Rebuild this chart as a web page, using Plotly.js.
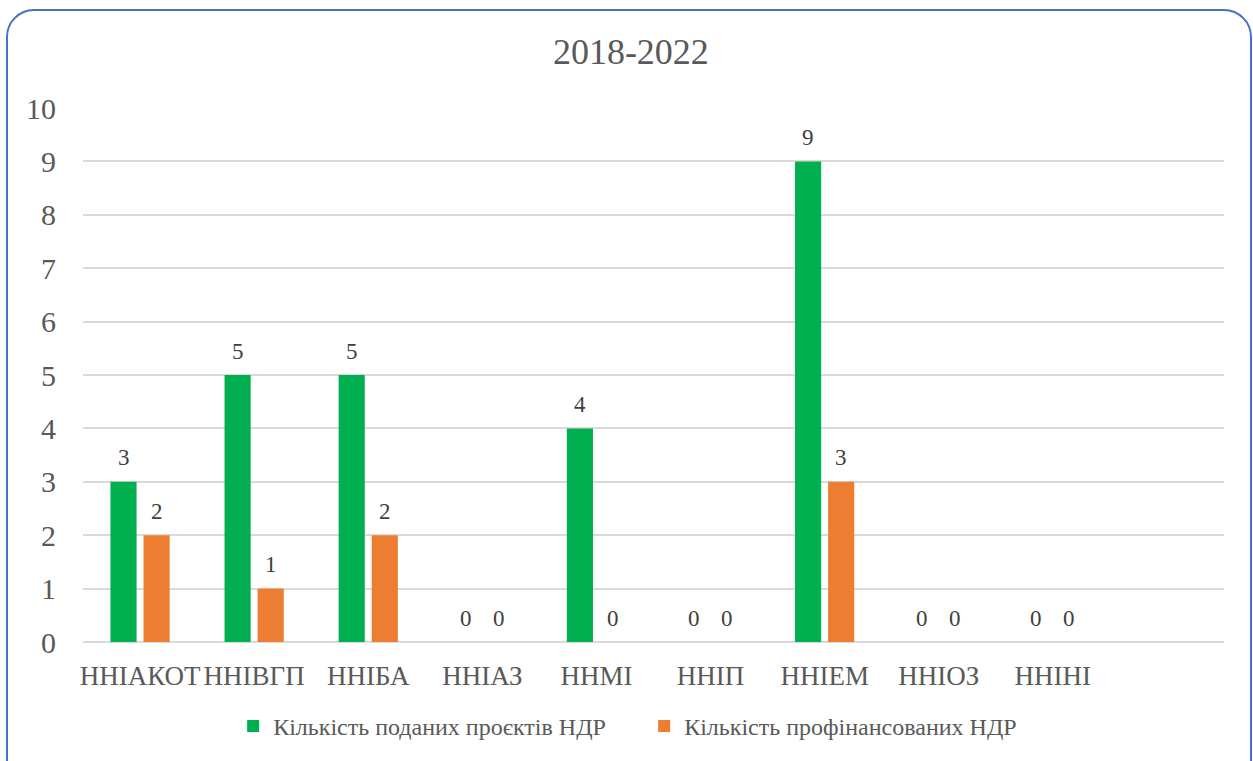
<!DOCTYPE html>
<html>
<head>
<meta charset="utf-8">
<script src="https://cdn.plot.ly/plotly-3.0.1.min.js"></script>
<style>
  html, body { margin: 0; padding: 0; background: #ffffff; overflow: hidden; }
  #wrap { position: relative; width: 1253px; height: 761px; }
  #chart { position: absolute; left: 0; top: 0; width: 1253px; height: 761px; }
  #frame { position: absolute; left: 6px; top: 9px; width: 1246px; height: 780px;
           border: 2.5px solid #4472C4; border-radius: 28px; pointer-events: none; box-sizing: border-box; }
</style>
</head>
<body>
<div id="wrap">
  <div id="chart"></div>
  <div id="frame"></div>
</div>
<script>
const categories = ["ННІАКОТ", "ННІВГП", "ННІБА", "ННІАЗ", "ННМІ", "ННІП", "ННІЕМ", "ННІОЗ", "ННІНІ"];
const submitted = [3, 5, 5, 0, 4, 0, 9, 0, 0];
const funded = [2, 1, 2, 0, 0, 0, 3, 0, 0];
const seriesNames = ["Кількість поданих проєктів НДР", "Кількість профінансованих НДР"];
const titleText = "2018-2022";

const font = "Liberation Serif";
const grey = "#595959";
const colors = ["#00B050", "#ED7D31"];
const seriesVals = [submitted, funded];

const traces = seriesVals.map((vals, i) => ({
  type: "bar",
  name: seriesNames[i],
  x: categories,
  y: vals,
  marker: { color: colors[i] },
  hoverinfo: "x+y"
}));

const annotations = [];
seriesVals.forEach((vals, i) => {
  vals.forEach((v, j) => {
    annotations.push({
      x: categories[j], y: v, xref: "x", yref: "y",
      text: String(v), showarrow: false,
      xshift: i === 0 ? -16.5 : 16.5, yshift: 24,
      yanchor: "middle", xanchor: "center",
      font: { family: font, size: 23, color: "#404040" }
    });
  });
});

const layout = {
  width: 1253, height: 761,
  paper_bgcolor: "rgba(0,0,0,0)",
  plot_bgcolor: "#ffffff",
  margin: { l: 83, r: 29, t: 108, b: 115 },
  title: { text: titleText, x: 0.5035, xanchor: "center", y: 0.932, yanchor: "middle",
           font: { family: font, size: 36, color: grey } },
  barmode: "group",
  bargap: 0.42,
  bargroupgap: 0.21,
  xaxis: {
    type: "category",
    range: [-0.5, 9.5],
    showgrid: false, zeroline: false, showline: false,
    ticks: "", ticklabelstandoff: 15,
    tickfont: { family: font, size: 27, color: grey },
    fixedrange: true
  },
  yaxis: {
    range: [0, 10], dtick: 1, tick0: 0,
    showgrid: true, gridcolor: "#dadada", gridwidth: 2,
    zeroline: true, zerolinecolor: "#dadada", zerolinewidth: 2,
    showline: false, ticks: "", ticklabelstandoff: 26,
    tickfont: { family: font, size: 30, color: grey },
    fixedrange: true
  },
  showlegend: true,
  legend: {
    orientation: "h", x: 0.1316, xanchor: "left", y: -0.158, yanchor: "middle",
    entrywidth: 366, entrywidthmode: "pixels",
    itemwidth: 30,
    font: { family: font, size: 24, color: grey },
    itemclick: false, itemdoubleclick: false,
    traceorder: "normal"
  },
  annotations: annotations
};

Plotly.newPlot("chart", traces, layout, { displayModeBar: false, staticPlot: true });
</script>
</body>
</html>
